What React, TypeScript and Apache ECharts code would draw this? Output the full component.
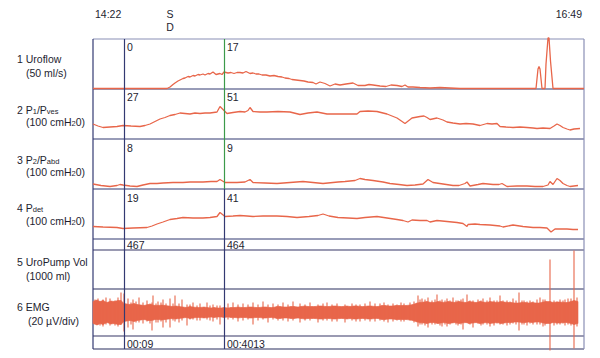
import React, { useEffect, useRef } from "react";
import * as echarts from "echarts";

// ---- data (t = sample position along recording, 0..491) ----
const T_MAX = 491;
const CURSOR_T = [31, 131];
const EVENT_T = 77;
const EVENT_LABELS = ["S", "D"];
const START_TIME = "14:22";
const END_TIME = "16:49";

const UROFLOW: number[][] = [
  [0, 0.5], [74, 0.5], [77, 2], [80, 4.5], [82, 6], [85, 8], [87, 9], [90, 10.5], [92, 11], [95, 12.5], [97, 12],
  [100, 13.5], [102, 13], [105, 14.5], [107, 14], [110, 15], [112, 14], [115, 15.5], [117, 15], [120, 17],
  [123, 14.5], [127, 15.5], [129, 14.5], [131, 17], [135, 16], [138, 16.5], [141, 15.5], [144, 16.5],
  [147, 16.5], [150, 16], [153, 17.5], [157, 15.5], [160, 16], [163, 15], [166, 15], [169, 14], [173, 14],
  [177, 13], [181, 13.5], [185, 12.5], [189, 12], [192, 11], [196, 10.5], [199, 9.5], [203, 9],
  [207, 8.5], [211, 8], [215, 7], [220, 6.5], [223, 5], [227, 7], [232, 5.5], [237, 3], [242, 5],
  [247, 4], [253, 5], [260, 6], [265, 3.5], [272, 3.5], [276, 4.5], [280, 4], [287, 3], [293, 2.5],
  [298, 4], [304, 3.5], [309, 2.5], [312, 4], [315, 2], [320, 2], [327, 1.5], [337, 1], [347, 1.5],
  [357, 1], [367, 0.5], [443, 0.5], [445, 20], [446, 22.5], [447, 20], [449, 0.5], [452, 0.5], [453, 25],
  [455, 51], [456, 51], [457.5, 28], [460, 0.5], [491, 0.5],
];

const P1: number[][] = [
  [0, 30], [5, 26], [10, 23], [17, 24], [24, 25], [30, 27], [38, 26], [47, 25], [52, 27], [57, 30], [62, 35],
  [67, 40], [72, 43], [77, 47], [82, 49], [87, 52], [92, 51], [97, 50], [102, 52], [107, 51], [112, 52],
  [117, 52], [124, 54], [127, 65], [130, 59], [134, 51], [140, 53], [147, 55], [152, 54], [155, 57],
  [157, 63], [160, 55], [167, 54], [174, 54], [185, 55], [197, 54], [207, 49], [215, 52], [224, 54],
  [234, 50], [247, 50], [257, 50], [264, 50], [267, 55], [275, 56], [284, 55], [290, 52], [294, 50],
  [304, 42], [312, 31], [319, 42], [327, 45], [331, 46], [334, 43], [337, 39], [344, 42], [350, 38],
  [354, 34], [360, 32], [367, 30], [373, 31], [380, 30], [387, 27], [394, 31], [399, 30], [404, 31],
  [407, 25], [413, 24], [420, 23], [427, 24], [434, 23], [440, 22], [444, 21], [450, 22], [457, 21],
  [461, 26], [464, 30], [467, 27], [470, 23], [474, 20], [477, 18], [481, 20], [487, 21],
];

const P2: number[][] = [
  [0, 10], [8, 7], [17, 5], [24, 7], [27, 9], [30, 8], [37, 6], [44, 5], [50, 8], [57, 11], [64, 11],
  [70, 12], [80, 13], [90, 13], [97, 14], [110, 14], [118, 15], [124, 15], [127, 19], [132, 13], [144, 13],
  [152, 14], [157, 19], [160, 13], [172, 12], [184, 11], [197, 13], [210, 15], [220, 13], [230, 11],
  [245, 14], [252, 15], [262, 17], [267, 21], [272, 19], [280, 17], [290, 14], [297, 11], [306, 9],
  [314, 7], [322, 8], [330, 10], [335, 19], [340, 13], [350, 10], [360, 7], [366, 7], [372, 11],
  [374, 14], [377, 6], [385, 9], [390, 11], [400, 9], [406, 9], [409, 11], [414, 5], [424, 6],
  [434, 6], [442, 5], [450, 5], [455, 8], [457, 15], [460, 9], [464, 21], [467, 17], [470, 11],
  [474, 7], [477, 5], [481, 6], [485, 7],
];

const PDET: number[][] = [
  [0, 25], [10, 24], [24, 23], [30, 21], [40, 22], [54, 23], [59, 26], [64, 30], [70, 34], [77, 39],
  [84, 41], [90, 43], [100, 42], [110, 42], [117, 43], [124, 45], [127, 53], [132, 45], [140, 46],
  [147, 47], [154, 46], [160, 45], [170, 46], [184, 46], [194, 45], [204, 43], [216, 45], [225, 47],
  [230, 50], [236, 46], [245, 43], [255, 42], [264, 41], [272, 43], [284, 45], [294, 42], [304, 39],
  [310, 37], [315, 34], [319, 38], [327, 37], [334, 37], [337, 34], [344, 37], [354, 35], [364, 33],
  [370, 31], [374, 25], [375, 29], [382, 30], [387, 29], [397, 28], [407, 26], [410, 24], [420, 28],
  [430, 25], [440, 23], [447, 23], [454, 22], [458, 14], [462, 20], [468, 20], [474, 20], [480, 19],
  [485, 19],
];

// EMG: half-height of the dense band, and individual spikes [t, up, down]
const EMG_ENVELOPE: number[][] = [
  [0, 11], [4, 12.5], [7, 11], [10, 12], [14, 10], [18, 11.5], [21, 11], [25, 12], [28, 12], [31, 9], [34, 8.5],
  [37, 8], [41, 9], [44, 8], [48, 7.5], [51, 7], [55, 8], [58, 8], [62, 7], [65, 7], [69, 7.5], [72, 7],
  [76, 6.5], [79, 6], [83, 6.5], [86, 6], [90, 5.5], [93, 5], [97, 6], [100, 5.5], [104, 5], [107, 5],
  [111, 5.5], [114, 5], [118, 4.5], [121, 5], [125, 4.5], [128, 4.5], [131, 5], [135, 4.5], [138, 5],
  [142, 5], [145, 5.5], [149, 5], [152, 5], [156, 5.5], [159, 5.5], [163, 5], [166, 5], [170, 5.5],
  [173, 5.5], [177, 5], [180, 5], [184, 6], [187, 6], [191, 5.5], [194, 5.5], [198, 6], [201, 6],
  [205, 5.5], [208, 6], [212, 6.5], [215, 6], [219, 6], [222, 6], [226, 6.5], [229, 6.5], [233, 6],
  [236, 6], [240, 6.5], [243, 6.5], [247, 6], [250, 6], [254, 6.5], [257, 6], [261, 6.5], [264, 6.5],
  [268, 6], [271, 6], [275, 6.5], [278, 6.5], [282, 6], [285, 6], [289, 7], [292, 7], [296, 6.5],
  [299, 6.5], [303, 7], [306, 7], [310, 7], [313, 7], [317, 7.5], [320, 8], [324, 9.5], [327, 10],
  [331, 10.5], [334, 11], [338, 10], [341, 10], [345, 11], [348, 10.5], [352, 10], [355, 11], [359, 10.5],
  [362, 10], [366, 11], [369, 10.5], [373, 10], [376, 11], [380, 10.5], [383, 10], [387, 11],
  [390, 10.5], [394, 10], [397, 11], [401, 10.5], [404, 10], [408, 11], [411, 10.5], [415, 10],
  [418, 10], [422, 9.5], [425, 9.5], [429, 10], [432, 10], [436, 9.5], [439, 10], [443, 9.5],
  [446, 9.5], [450, 10.5], [453, 11], [457, 11], [460, 10], [464, 10.5], [467, 10.5], [471, 10],
  [474, 10], [478, 11], [481, 12], [485, 11],
];

const EMG_SPIKES: number[][] = [
  [2, 13, 10], [5, 14, 12], [7, 11, 13], [10, 13, 14], [13, 15, 12], [17, 14, 13], [22, 12, 13], [25, 15, 14],
  [28, 20, 12], [31, 19, 19], [35, 14, 15], [38, 10, 12], [40, 13, 17], [43, 11, 10], [46, 15, 10],
  [50, 10, 11], [54, 12, 9], [57, 9, 11], [59, 10, 18], [60, 17, 8], [63, 9, 10], [65, 11, 10], [68, 10, 9],
  [70, 13, 15], [73, 9, 10], [77, 14, 15], [80, 9, 8], [82, 17, 9], [86, 9, 10], [89, 13, 8], [94, 8, 13],
  [97, 8, 7], [100, 10, 7], [104, 7, 8], [107, 9, 8], [114, 10, 7], [117, 7, 8], [120, 8, 9], [124, 7, 7],
  [127, 7, 12], [135, 9, 7], [140, 10, 7], [145, 8, 9], [150, 9, 8], [155, 8, 7], [160, 10, 12],
  [165, 8, 8], [170, 11, 7], [175, 8, 10], [180, 9, 7], [185, 8, 8], [190, 10, 8], [195, 8, 9],
  [200, 11, 8], [207, 9, 10], [212, 8, 8], [217, 10, 8], [225, 8, 10], [230, 9, 8], [234, 10, 8],
  [239, 8, 9], [244, 9, 9], [252, 8, 10], [259, 9, 8], [263, 8, 9], [267, 8, 9], [272, 9, 8],
  [277, 11, 9], [282, 9, 9], [287, 9, 8], [291, 10, 9], [295, 8, 10], [300, 9, 9], [304, 8, 8],
  [308, 10, 9], [311, 9, 9], [317, 10, 8], [321, 11, 10], [325, 17, 14], [327, 13, 12], [329, 14, 12],
  [332, 13, 13], [335, 15, 15], [339, 12, 12], [342, 13, 12], [344, 18, 11], [347, 12, 13], [349, 13, 14],
  [352, 12, 12], [354, 14, 14], [357, 12, 12], [360, 15, 10], [363, 12, 12], [365, 12, 13], [368, 13, 12],
  [370, 14, 17], [374, 18, 10], [377, 12, 12], [380, 12, 15], [385, 13, 11], [388, 12, 13], [390, 14, 12],
  [394, 12, 12], [397, 15, 14], [401, 12, 13], [404, 12, 11], [407, 17, 12], [410, 12, 12], [414, 12, 13],
  [417, 11, 12], [420, 14, 11], [423, 12, 12], [426, 20, 18], [429, 12, 12], [431, 12, 12], [434, 11, 13],
  [437, 12, 11], [440, 11, 12], [444, 13, 12], [447, 15, 12], [450, 13, 14], [452, 13, 13],
  [457, 53, 38], [461, 12, 13], [464, 11, 12], [467, 13, 12], [470, 12, 11], [472, 13, 13],
  [475, 14, 12], [478, 14, 13], [481, 62, 36], [484, 15, 14],
];

// cursor readouts per panel
const READ_UROFLOW = ["0", "17"];
const READ_P1 = ["27", "51"];
const READ_P2 = ["8", "9"];
const READ_PDET = ["19", "41"];
const READ_PUMP = ["467", "464"];
const READ_TIME = ["00:09", "00:4013"];

const CHANNEL_LINE1 = [
  "1 Uroflow",
  "2 P{s|1}/P{s|ves}",
  "3 P{s|2}/P{s|abd}",
  "4 P{s|det}",
  "5 UroPump Vol",
  "6 EMG",
];
const CHANNEL_LINE2 = [
  "(50 ml/s)",
  "(100 cmH{s|2}0)",
  "(100 cmH{s|2}0)",
  "(100 cmH{s|2}0)",
  "(1000 ml)",
  "(20 µV/div)",
];

// ---- layout / style ----
const LEFT = 93;
const WIDTH = 491;
const PANELS = [
  { top: 39, height: 50, min: 0, max: 50 },
  { top: 89, height: 50, min: 0, max: 100 },
  { top: 139, height: 50, min: 0, max: 100 },
  { top: 189, height: 50, min: 0, max: 100 },
  { top: 239, height: 11, min: 0, max: 1 },
  { top: 250, height: 39, min: 0, max: 1000 },
  { top: 289, height: 47, min: -23.5, max: 23.5 },
  { top: 336, height: 13, min: 0, max: 1 },
];
const LABEL_Y = [
  [58.5, 72.5], [110, 122], [160, 171.5], [207.5, 221], [262, 276], [307, 321],
];
const TRACE = "#e8664a";
const NAVY = "#333a72";
const GREEN = "#3c9a4a";
const FONT = "'Liberation Sans', Arial, sans-serif";

export default function App() {
  const ref = useRef<HTMLDivElement>(null);
  useEffect(() => {
    if (!ref.current) return;
    const chart = echarts.init(ref.current, undefined, { renderer: "svg" });

    const grids = PANELS.map((p) => ({ left: LEFT, width: WIDTH, top: p.top, height: p.height, show: false }));
    const xAxes = PANELS.map((_, i) => ({ type: "value", gridIndex: i, min: 0, max: T_MAX, show: false }));
    const yAxes = PANELS.map((p, i) => ({ type: "value", gridIndex: i, min: p.min, max: p.max, show: false }));

    const cursorLine = (i: number) => ({
      silent: true,
      symbol: "none",
      label: { show: false },
      lineStyle: { color: NAVY, width: 1.2, type: "solid" },
      data: [
        { xAxis: CURSOR_T[0] },
        { xAxis: CURSOR_T[1], lineStyle: { color: i <= 2 ? GREEN : NAVY, width: 1.2, type: "solid" } },
      ],
    });

    const trace = (i: number, data: number[][], clip = true) => ({
      type: "line",
      xAxisIndex: i,
      yAxisIndex: i,
      data,
      showSymbol: false,
      clip,
      z: 3,
      lineStyle: { color: TRACE, width: 1.3 },
      markLine: cursorLine(i),
    });

    // band segments built from the envelope
    const emgSegments = EMG_ENVELOPE.slice(0, -1).map((p, i) => [p[0], p[1], EMG_ENVELOPE[i + 1][0], EMG_ENVELOPE[i + 1][1]]);

    const series: any[] = [
      trace(0, UROFLOW, false),
      trace(1, P1),
      trace(2, P2),
      trace(3, PDET),
      { type: "line", xAxisIndex: 4, yAxisIndex: 4, data: [], markLine: cursorLine(4) },
      { type: "line", xAxisIndex: 5, yAxisIndex: 5, data: [], markLine: cursorLine(5) },
      {
        type: "custom", xAxisIndex: 6, yAxisIndex: 6, data: emgSegments, z: 3,
        encode: { x: [0, 2], y: [1, 3] },
        markLine: cursorLine(6),
        renderItem: (_p: any, api: any) => {
          const t0 = api.value(0), a0 = api.value(1), t1 = api.value(2), a1 = api.value(3);
          const pts = [api.coord([t0, a0]), api.coord([t1, a1]), api.coord([t1, -a1]), api.coord([t0, -a0])];
          return { type: "polygon", shape: { points: pts }, style: { fill: TRACE, stroke: TRACE, lineWidth: 0.6 } };
        },
      },
      {
        type: "custom", xAxisIndex: 6, yAxisIndex: 6, data: EMG_SPIKES, clip: false, z: 4,
        encode: { x: 0, y: 1 },
        renderItem: (_p: any, api: any) => {
          const t = api.value(0);
          const a = api.coord([t, api.value(1)]);
          const b = api.coord([t, -api.value(2)]);
          return { type: "line", shape: { x1: a[0], y1: a[1], x2: b[0], y2: b[1] }, style: { stroke: TRACE, lineWidth: 1.1 } };
        },
      },
      { type: "line", xAxisIndex: 7, yAxisIndex: 7, data: [], markLine: cursorLine(7) },
    ];

    chart.setOption({
      animation: false,
      backgroundColor: "#ffffff",
      grid: grids,
      xAxis: xAxes,
      yAxis: yAxes,
      series,
    });

    const px = (t: number) => chart.convertToPixel({ xAxisIndex: 0 }, t) as number;
    const graphic: any[] = [];
    const txt = (x: number, y: number, text: string, align = "left", extra: any = {}) =>
      graphic.push({
        type: "text", x, y, z: 10,
        style: { text, x: 0, y: 0, align, verticalAlign: "middle", fill: "#1e1e30", font: `10.5px ${FONT}`, ...extra },
      });

    // frame lines
    const right = LEFT + WIDTH;
    const bottom = PANELS[7].top + PANELS[7].height;
    const hLines: [number, string, number][] = [
      [PANELS[0].top, "#8a8fb5", 1.2],
      [PANELS[1].top, NAVY, 1.2],
      [PANELS[2].top, NAVY, 1.2],
      [PANELS[3].top, NAVY, 1.2],
      [PANELS[4].top, NAVY, 1.2],
      [PANELS[5].top, "#9a9ab2", 2],
      [PANELS[6].top, "#2a2e5e", 1.2],
      [PANELS[7].top, "#9a9ab2", 2],
      [bottom, "#2a2e5e", 1.2],
    ];
    hLines.forEach(([y, c, w]) =>
      graphic.push({ type: "line", z: 1, shape: { x1: LEFT, y1: y, x2: right, y2: y }, style: { stroke: c, lineWidth: w } })
    );
    graphic.push({ type: "line", z: 1, shape: { x1: LEFT, y1: PANELS[0].top, x2: LEFT, y2: bottom }, style: { stroke: NAVY, lineWidth: 1.2 } });
    graphic.push({ type: "line", z: 1, shape: { x1: right, y1: PANELS[0].top, x2: right, y2: bottom }, style: { stroke: "#8a8fb5", lineWidth: 1.2 } });

    // top labels
    txt(LEFT + 2, 14, START_TIME);
    txt(right - 2, 14, END_TIME, "right");
    txt(px(EVENT_T), 14, EVENT_LABELS[0], "center");
    txt(px(EVENT_T), 26.5, EVENT_LABELS[1], "center");

    // cursor readouts
    const readouts: [number, string[], number][] = [
      [0, READ_UROFLOW, 8], [1, READ_P1, 8], [2, READ_P2, 8.5], [3, READ_PDET, 9], [4, READ_PUMP, 5.5], [7, READ_TIME, 7.5],
    ];
    readouts.forEach(([pi, vals, dy]) => {
      vals.forEach((v, k) => txt(px(CURSOR_T[k]) + 3, PANELS[pi].top + dy, v));
    });

    // channel labels
    const rich = {
      s: { fontSize: 7.5, lineHeight: 3, verticalAlign: "bottom", fontFamily: FONT, fill: "#1e1e30" },
    };
    CHANNEL_LINE1.forEach((l, i) => {
      txt(17, LABEL_Y[i][0], l, "left", { rich, lineHeight: 11 });
      txt(i === 5 ? 28 : 26, LABEL_Y[i][1], CHANNEL_LINE2[i], "left", { rich, lineHeight: 11 });
    });

    chart.setOption({ graphic });
    return () => chart.dispose();
  }, []);

  return <div ref={ref} style={{ position: "absolute", left: 0, top: 0, width: 600, height: 358, background: "#fff" }} />;
}
